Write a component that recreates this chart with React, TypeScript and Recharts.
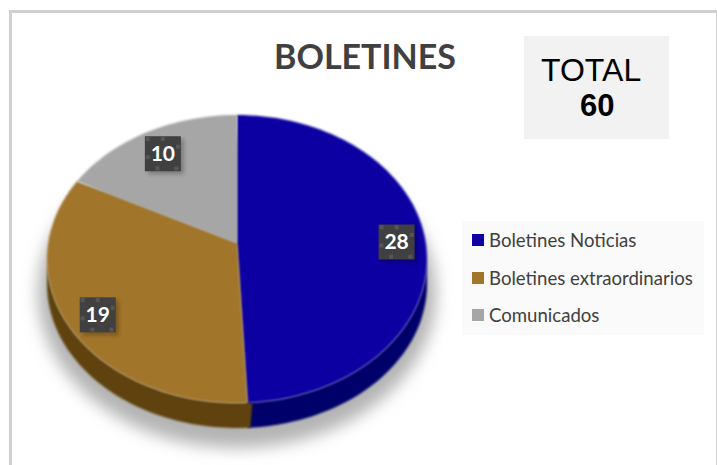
import { Legend, Pie, PieChart } from "recharts";

const categories = ["Boletines Noticias", "Boletines extraordinarios", "Comunicados"];
const values = [28, 19, 10];
const topColors = ["#0e00a3", "#a27629", "#a6a6a6"];
const wallColors = ["#05006a", "#5f420e", "#6e6e6e"];
const totalLabel = "TOTAL";
const totalValue = 60;

const data = categories.map((name, i) => ({ name, value: values[i], fill: topColors[i], wall: wallColors[i] }));

// the pie is tilted: the rim ellipse sits lower than the apex
const RX = 190;
const RY = 144;
const RIM_DROP = 16;
const DEPTH = 25;

const toClock = (angle: number) => 90 - angle;
const warp = (deg: number) => (deg > 180 ? deg - 7.2 * Math.sin((2 * deg * Math.PI) / 180) : deg);

function rim(cx: number, cy: number, deg: number, rx: number) {
  const t = (warp(deg) * Math.PI) / 180;
  return { x: cx + rx * Math.sin(t), y: cy + RIM_DROP - (RY / RX) * rx * Math.cos(t) };
}

function arcPath(cx: number, cy: number, rx: number, from: number, to: number, dy = 0) {
  let d = "";
  for (let a = from; a <= to; a += 2) {
    const p = rim(cx, cy, a, rx);
    d += `L${p.x.toFixed(1)} ${(p.y + dy).toFixed(1)} `;
  }
  const end = rim(cx, cy, to, rx);
  return d + `L${end.x.toFixed(1)} ${(end.y + dy).toFixed(1)} `;
}

function reversePath(cx: number, cy: number, rx: number, from: number, to: number) {
  let d = "";
  for (let a = to; a >= from; a -= 2) {
    const p = rim(cx, cy, a, rx);
    d += `L${p.x.toFixed(1)} ${(p.y + DEPTH).toFixed(1)} `;
  }
  return d;
}

function TopFace(props: any) {
  const { cx, cy, outerRadius, startAngle, endAngle, fill } = props;
  const from = toClock(startAngle);
  const to = toClock(endAngle);
  return <path d={`M${cx} ${cy} ${arcPath(cx, cy, outerRadius, from, to)}Z`} fill={fill} filter="url(#soft)" />;
}

function WallFace(props: any) {
  const { cx, cy, outerRadius, startAngle, endAngle, payload } = props;
  const from = toClock(startAngle);
  const to = toClock(endAngle);
  // only the front half of the rim shows a wall, the overlap hides the seam
  const a = Math.max(from - 1.5, 90);
  const b = Math.min(to, 270);
  const first = payload.name === categories[0];
  return (
    <g>
      {first && (
        <ellipse cx={cx} cy={cy + RIM_DROP + DEPTH + 9} rx={outerRadius + 9} ry={RY + 11} fill="#b4b4b4" filter="url(#shadow)" />
      )}
      {a < b && (
        <path
          d={`M${arcPath(cx, cy, outerRadius, a, b).slice(1)}${reversePath(cx, cy, outerRadius, a, b)}Z`}
          fill={payload.wall}
          filter="url(#soft)"
        />
      )}
    </g>
  );
}

const handleSpots = [
  [0.08, 0.08],
  [0.5, 0.08],
  [0.92, 0.3],
  [0.08, 0.6],
  [0.35, 0.92],
  [0.88, 0.92],
];

function ValueLabel(props: any) {
  const { cx, cy, outerRadius, startAngle, endAngle, value } = props;
  const mid = (warp(toClock(startAngle)) + warp(toClock(endAngle))) / 2 + 1;
  const t = (mid * Math.PI) / 180;
  const c = Math.cos(t);
  const f = 0.84;
  const x = cx + outerRadius * Math.sin(t) * f;
  const y = cy - c * (c > 0 ? 120 : 175) * f;
  const w = 36;
  const h = 35;
  return (
    <g>
      <rect x={x - w / 2 + 3} y={y - h / 2 + 3} width={w} height={h} fill="#000" opacity={0.25} filter="url(#labelShadow)" />
      <rect x={x - w / 2} y={y - h / 2} width={w} height={h} fill="#404040" />
      {handleSpots.map(([u, v], i) => (
        <rect key={i} x={x - w / 2 + u * w - 2} y={y - h / 2 + v * h - 2} width={4} height={4} fill="#565656" />
      ))}
      <text x={x} y={y + 7} textAnchor="middle" fontFamily="Lato, sans-serif" fontWeight={700} fontSize={21} fill="#fff">
        {value}
      </text>
    </g>
  );
}

function LegendBox({ payload }: any) {
  const items = (payload || []).filter((item: any) => item.type !== "none");
  return (
    <div style={{ width: 242, height: 114, background: "#fafafa", position: "relative" }}>
      {items.map((item: any, i: number) => (
        <div key={item.value} style={{ position: "absolute", left: 10, top: 8 + i * 37.5, height: 22, display: "flex", alignItems: "center" }}>
          <span style={{ width: 12, height: 12, background: item.color, marginRight: 5, display: "block" }} />
          <span style={{ fontFamily: "Lato, sans-serif", fontSize: 18.6, color: "#404040", whiteSpace: "nowrap" }}>{item.value}</span>
        </div>
      ))}
    </div>
  );
}

export default function App() {
  return (
    <div style={{ position: "absolute", left: 0, top: 0, width: 717, height: 465, background: "#fff", overflow: "hidden" }}>
      <div style={{ position: "absolute", left: 9, top: 10, width: 704, height: 470, border: "3px solid #d0d0d0" }} />
      <div style={{ position: "absolute", left: 524, top: 36, width: 145, height: 103, background: "#f2f2f2" }} />
      <div style={{ position: "absolute", left: 240, top: 35, width: 250, textAlign: "center", fontFamily: "Lato, sans-serif", fontWeight: 700, fontSize: 34, lineHeight: "42px", color: "#404040" }}>
        BOLETINES
      </div>
      <div style={{ position: "absolute", left: 541, top: 50, fontFamily: "'Liberation Sans', sans-serif", fontSize: 32, lineHeight: "40px", color: "#000" }}>
        {totalLabel}
      </div>
      <div style={{ position: "absolute", left: 580, top: 87, fontFamily: "'Liberation Sans', sans-serif", fontWeight: 700, fontSize: 31, lineHeight: "38px", color: "#000" }}>
        {totalValue}
      </div>
      <div style={{ position: "absolute", left: 0, top: 0 }}>
        <PieChart width={717} height={465} margin={{ top: 0, right: 0, bottom: 0, left: 0 }}>
          <defs>
            <filter id="soft" x="-5%" y="-5%" width="110%" height="110%">
              <feGaussianBlur stdDeviation="0.8" />
            </filter>
            <filter id="shadow" x="-20%" y="-20%" width="140%" height="140%">
              <feGaussianBlur stdDeviation="8" />
            </filter>
            <filter id="labelShadow" x="-30%" y="-30%" width="160%" height="160%">
              <feGaussianBlur stdDeviation="2" />
            </filter>
          </defs>
          <Pie
            data={data}
            dataKey="value"
            nameKey="name"
            cx={237}
            cy={243}
            outerRadius={RX}
            startAngle={90}
            endAngle={-270}
            stroke="none"
            legendType="none"
            shape={WallFace}
            isAnimationActive={false}
          />
          <Pie
            data={data}
            dataKey="value"
            nameKey="name"
            cx={237}
            cy={243}
            outerRadius={RX}
            startAngle={90}
            endAngle={-270}
            stroke="none"
            legendType="square"
            shape={TopFace}
            label={ValueLabel}
            labelLine={false}
            isAnimationActive={false}
          />
          <Legend content={LegendBox} layout="vertical" wrapperStyle={{ position: "absolute", left: 462, top: 221, width: 242, bottom: "auto" }} />
        </PieChart>
      </div>
    </div>
  );
}
